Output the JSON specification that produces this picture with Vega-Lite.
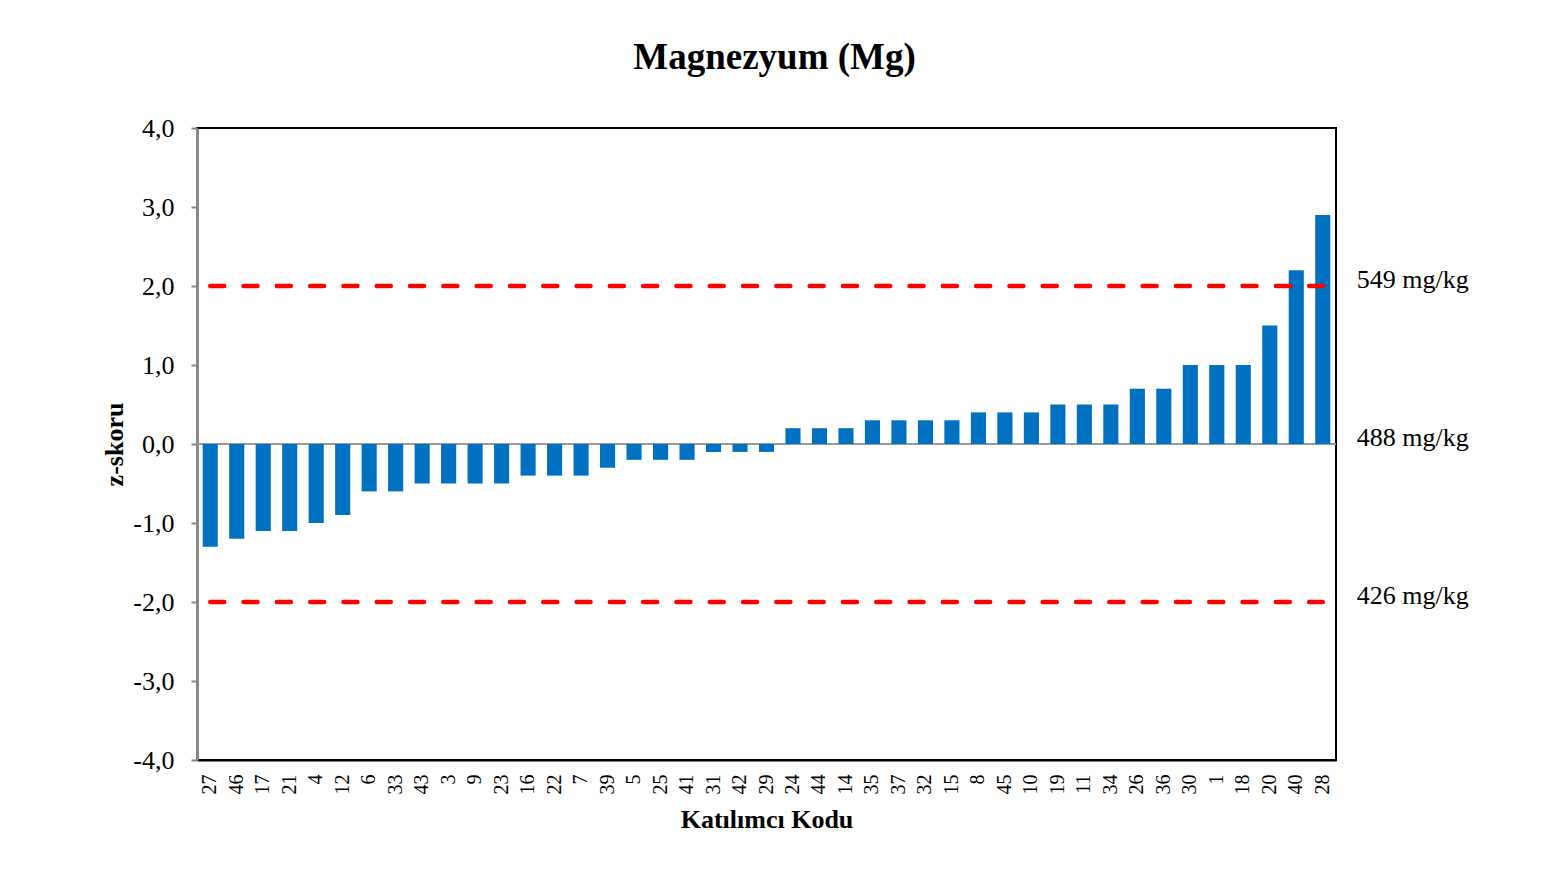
{
  "$schema": "https://vega.github.io/schema/vega-lite/v6.json",
  "autosize": {"type": "none"},
  "padding": {"left": 197, "top": 128, "right": 205, "bottom": 131},
  "width": 1139,
  "height": 632,
  "background": "white",
  "title": {
    "text": "Magnezyum (Mg)",
    "font": "Liberation Serif",
    "fontSize": 37,
    "fontWeight": "bold",
    "color": "black",
    "anchor": "middle",
    "dx": 8,
    "offset": 38
  },
  "datasets": {
    "scores": [
      {"code": "27", "z": -1.3}, {"code": "46", "z": -1.2}, {"code": "17", "z": -1.1},
      {"code": "21", "z": -1.1}, {"code": "4", "z": -1.0}, {"code": "12", "z": -0.9},
      {"code": "6", "z": -0.6}, {"code": "33", "z": -0.6}, {"code": "43", "z": -0.5},
      {"code": "3", "z": -0.5}, {"code": "9", "z": -0.5}, {"code": "23", "z": -0.5},
      {"code": "16", "z": -0.4}, {"code": "22", "z": -0.4}, {"code": "7", "z": -0.4},
      {"code": "39", "z": -0.3}, {"code": "5", "z": -0.2}, {"code": "25", "z": -0.2},
      {"code": "41", "z": -0.2}, {"code": "31", "z": -0.1}, {"code": "42", "z": -0.1},
      {"code": "29", "z": -0.1}, {"code": "24", "z": 0.2}, {"code": "44", "z": 0.2},
      {"code": "14", "z": 0.2}, {"code": "35", "z": 0.3}, {"code": "37", "z": 0.3},
      {"code": "32", "z": 0.3}, {"code": "15", "z": 0.3}, {"code": "8", "z": 0.4},
      {"code": "45", "z": 0.4}, {"code": "10", "z": 0.4}, {"code": "19", "z": 0.5},
      {"code": "11", "z": 0.5}, {"code": "34", "z": 0.5}, {"code": "26", "z": 0.7},
      {"code": "36", "z": 0.7}, {"code": "30", "z": 1.0}, {"code": "1", "z": 1.0},
      {"code": "18", "z": 1.0}, {"code": "20", "z": 1.5}, {"code": "40", "z": 2.2},
      {"code": "28", "z": 2.9}
    ],
    "limits": [
      {"label": "549 mg/kg", "z": 2},
      {"label": "488 mg/kg", "z": 0},
      {"label": "426 mg/kg", "z": -2}
    ]
  },
  "data": {"name": "scores"},
  "config": {
    "view": {"stroke": "black", "strokeWidth": 2},
    "axis": {"grid": false}
  },
  "encoding": {
    "x": {
      "field": "code",
      "type": "nominal",
      "sort": null,
      "scale": {"paddingInner": 0.43, "paddingOuter": 0.215},
      "axis": {
        "title": "Katılımcı Kodu",
        "titleFont": "Liberation Serif",
        "titleFontSize": 26,
        "titleFontWeight": "bold",
        "titleColor": "black",
        "titlePadding": 12,
        "labelFont": "Liberation Serif",
        "labelFontSize": 20,
        "labelColor": "black",
        "labelAngle": -90,
        "labelPadding": 14,
        "ticks": false,
        "domainColor": "black",
        "domainWidth": 2
      }
    }
  },
  "layer": [
    {
      "mark": {"type": "rule", "color": "#999999", "strokeWidth": 2},
      "encoding": {"y": {"datum": 0}, "x": null}
    },
    {
      "mark": {"type": "bar", "color": "#0070C0"},
      "encoding": {
        "y": {
          "field": "z",
          "type": "quantitative",
          "scale": {"domain": [-4, 4], "nice": false},
          "axis": {
            "values": [-4, -3, -2, -1, 0, 1, 2, 3, 4],
            "labelExpr": "replace(replace(format(datum.value, '.1f'), '.', ','), '−', '-')",
            "title": "z-skoru",
            "titleFont": "Liberation Serif",
            "titleFontSize": 26,
            "titleFontWeight": "bold",
            "titleColor": "black",
            "titlePadding": 5,
            "labelFont": "Liberation Serif",
            "labelFontSize": 26,
            "labelColor": "black",
            "labelPadding": 17,
            "tickColor": "#888888",
            "tickSize": 6,
            "tickWidth": 2,
            "domainColor": "#888888",
            "domainWidth": 3
          }
        }
      }
    },
    {
      "mark": {"type": "line", "color": "#FF0000", "strokeWidth": 4.5, "strokeDash": [14, 19.3], "strokeCap": "round"},
      "encoding": {"y": {"datum": 2}}
    },
    {
      "mark": {"type": "line", "color": "#FF0000", "strokeWidth": 4.5, "strokeDash": [14, 19.3], "strokeCap": "round"},
      "encoding": {"y": {"datum": -2}}
    },
    {
      "data": {"name": "limits"},
      "mark": {"type": "text", "font": "Liberation Serif", "fontSize": 26, "color": "black", "align": "left", "baseline": "middle", "dx": 34, "dy": -6},
      "encoding": {
        "x": {"datum": "28"},
        "y": {"field": "z", "type": "quantitative"},
        "text": {"field": "label"}
      }
    }
  ]
}
